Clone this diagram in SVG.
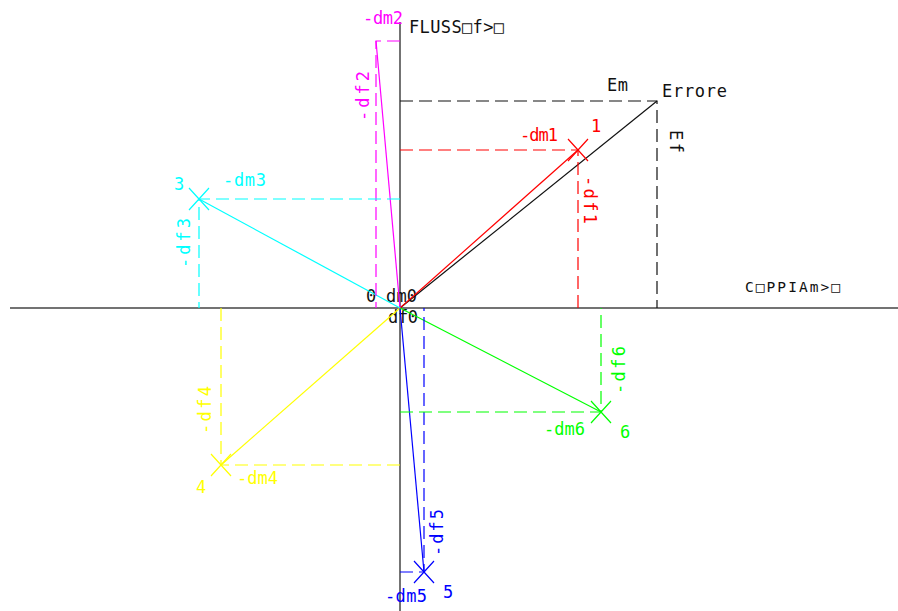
<svg xmlns="http://www.w3.org/2000/svg" xmlns:xlink="http://www.w3.org/1999/xlink" width="898" height="611" viewBox="0 0 898 611">
<style>
text{font-family:"DejaVu Sans Mono","Liberation Mono",monospace;font-size:17px;}
.ax{stroke:#444;stroke-width:1.5;fill:none}
.s{stroke-width:1.2;fill:none}
.d{stroke-width:1.2;fill:none;stroke-dasharray:13 6}
.mk{stroke:currentColor;stroke-width:1.2;fill:none}
.k{stroke:#111;color:#111}.tk{fill:#111}
.r{stroke:#ff0000;color:#ff0000}.tr{fill:#ff0000}
.m{stroke:#ff00ff;color:#ff00ff}.tm{fill:#ff00ff}
.c{stroke:#00ffff;color:#00ffff}.tc{fill:#00ffff}
.y{stroke:#ffff00;color:#ffff00}.ty{fill:#ffff00}
.b{stroke:#0000ff;color:#0000ff}.tb{fill:#0000ff}
.g{stroke:#00ff00;color:#00ff00}.tg{fill:#00ff00}
</style>
<defs>
<path id="x" class="mk" d="M-10,-11 L10,11 M-10,11 L10,-11"/>
</defs>
<rect width="898" height="611" fill="#fff"/>
<g id="axes">
<line class="ax" x1="10" y1="308" x2="898" y2="308"/>
<line class="ax" x1="400" y1="22" x2="400" y2="611"/>
<text class="tk" x="409" y="33" textLength="95" lengthAdjust="spacing">FLUSS□f&gt;□</text>
<text class="tk" x="745" y="292" style="font-size:14.5px" textLength="95" lengthAdjust="spacing">C□PPIAm&gt;□</text>
<text class="tk" x="366" y="302">0</text>
<text class="tk" x="386" y="302" textLength="31" lengthAdjust="spacing">dm0</text>
<text class="tk" x="388" y="323" textLength="30" lengthAdjust="spacing">df0</text>
</g>
<g id="connectors">
<line class="s k" x1="400" y1="308" x2="657" y2="101"/>
<line class="s r" x1="400" y1="308" x2="578" y2="150"/>
<line class="s m" x1="400" y1="308" x2="376" y2="41"/>
<line class="s c" x1="400" y1="308" x2="199" y2="199"/>
<line class="s y" x1="400" y1="308" x2="221" y2="465"/>
<line class="s b" x1="400" y1="308" x2="424" y2="572"/>
<line class="s g" x1="400" y1="308" x2="601" y2="412"/>
</g>
<g id="errore">
<path class="d k" d="M400,101 H657 V308"/>
<text class="tk" x="607" y="91" textLength="21" lengthAdjust="spacing">Em</text>
<text class="tk" x="662" y="97" textLength="65" lengthAdjust="spacing">Errore</text>
<text class="tk" transform="translate(670,130) rotate(90)" textLength="23" lengthAdjust="spacing">Ef</text>
</g>
<g id="p1">
<path class="d r" d="M400,150 H578 V308"/>
<use xlink:href="#x" x="578" y="150" class="r"/>
<text class="tr" x="591" y="132">1</text>
<text class="tr" x="520" y="141" textLength="38" lengthAdjust="spacing">-dm1</text>
<text class="tr" transform="translate(584,176) rotate(90)" textLength="48" lengthAdjust="spacing">-df1</text>
</g>
<g id="p2">
<path class="d m" d="M400,41 H376 V308"/>
<text class="tm" x="363" y="24" textLength="40" lengthAdjust="spacing">-dm2</text>
<text class="tm" transform="translate(369,121) rotate(-90)" textLength="50" lengthAdjust="spacing">-df2</text>
</g>
<g id="p3">
<path class="d c" d="M400,199 H199 V308"/>
<use xlink:href="#x" x="199" y="199" class="c"/>
<text class="tc" x="174" y="190">3</text>
<text class="tc" x="223" y="186" textLength="43" lengthAdjust="spacing">-dm3</text>
<text class="tc" transform="translate(190,268) rotate(-90)" textLength="50" lengthAdjust="spacing">-df3</text>
</g>
<g id="p4">
<path class="d y" d="M400,465 H221 V308"/>
<use xlink:href="#x" x="221" y="465" class="y"/>
<text class="ty" x="196" y="493">4</text>
<text class="ty" x="237" y="484" textLength="41" lengthAdjust="spacing">-dm4</text>
<text class="ty" transform="translate(211,434) rotate(-90)" textLength="48" lengthAdjust="spacing">-df4</text>
</g>
<g id="p5">
<path class="d b" d="M400,572 H424 V308"/>
<use xlink:href="#x" x="424" y="572" class="b"/>
<text class="tb" x="443" y="598">5</text>
<text class="tb" x="385" y="602" textLength="42" lengthAdjust="spacing">-dm5</text>
<text class="tb" transform="translate(443,556) rotate(-90)" textLength="47" lengthAdjust="spacing">-df5</text>
</g>
<g id="p6">
<path class="d g" d="M400,412 H601 V308"/>
<use xlink:href="#x" x="601" y="412" class="g"/>
<text class="tg" x="620" y="438">6</text>
<text class="tg" x="544" y="435" textLength="41" lengthAdjust="spacing">-dm6</text>
<text class="tg" transform="translate(625,394) rotate(-90)" textLength="48" lengthAdjust="spacing">-df6</text>
</g>
</svg>
